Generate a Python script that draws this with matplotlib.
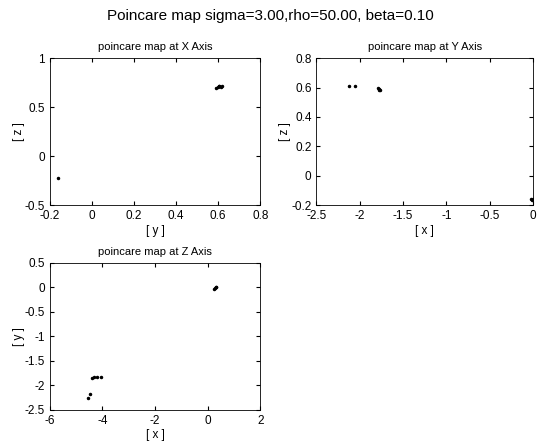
import matplotlib
matplotlib.use('Agg')
import matplotlib.pyplot as plt

plt.rcParams['font.family'] = ['Liberation Sans', 'DejaVu Sans']
plt.rcParams['axes.unicode_minus'] = False

# poincare section points
x_sec_y = [0.590, 0.598, 0.605, 0.612, 0.620, 0.602, -0.160]
x_sec_z = [0.700, 0.705, 0.712, 0.708, 0.715, 0.718, -0.220]

y_sec_x = [-2.12, -2.06, -1.79, -1.78, -1.77, -1.78, -0.02, -0.01, 0.00]
y_sec_z = [0.610, 0.610, 0.595, 0.590, 0.585, 0.580, -0.160, -0.165, -0.160]

z_sec_x = [0.25, 0.28, 0.31, 0.33, -4.40, -4.30, -4.20, -4.05, -4.55, -4.48]
z_sec_y = [-0.03, -0.01, 0.00, 0.01, -1.85, -1.82, -1.84, -1.83, -2.25, -2.17]

fig = plt.figure(figsize=(5.41, 4.44), dpi=100)
fig.suptitle('Poincare map sigma=3.00,rho=50.00, beta=0.10', fontsize=11, y=0.98)

ax1 = fig.add_axes([0.092, 0.538, 0.389, 0.331])
ax1.plot(x_sec_y, x_sec_z, 'k.', markersize=3)
ax1.set_xlim(-0.2, 0.8)
ax1.set_ylim(-0.5, 1)
ax1.set_xticks([-0.2, 0, 0.2, 0.4, 0.6, 0.8])
ax1.set_xticklabels(['-0.2', '0', '0.2', '0.4', '0.6', '0.8'])
ax1.set_yticks([-0.5, 0, 0.5, 1])
ax1.set_yticklabels(['-0.5', '0', '0.5', '1'])
ax1.set_title('poincare map at X Axis', fontsize=8)
ax1.set_xlabel('[ y ]')
ax1.set_ylabel('[ z ]')

ax2 = fig.add_axes([0.585, 0.538, 0.400, 0.331])
ax2.plot(y_sec_x, y_sec_z, 'k.', markersize=3)
ax2.set_xlim(-2.5, 0)
ax2.set_ylim(-0.2, 0.8)
ax2.set_xticks([-2.5, -2, -1.5, -1, -0.5, 0])
ax2.set_xticklabels(['-2.5', '-2', '-1.5', '-1', '-0.5', '0'])
ax2.set_yticks([-0.2, 0, 0.2, 0.4, 0.6, 0.8])
ax2.set_yticklabels(['-0.2', '0', '0.2', '0.4', '0.6', '0.8'])
ax2.set_title('poincare map at Y Axis', fontsize=8)
ax2.set_xlabel('[ x ]')
ax2.set_ylabel('[ z ]')

ax3 = fig.add_axes([0.092, 0.077, 0.389, 0.331])
ax3.plot(z_sec_x, z_sec_y, 'k.', markersize=3)
ax3.set_xlim(-6, 2)
ax3.set_ylim(-2.5, 0.5)
ax3.set_xticks([-6, -4, -2, 0, 2])
ax3.set_xticklabels(['-6', '-4', '-2', '0', '2'])
ax3.set_yticks([-2.5, -2, -1.5, -1, -0.5, 0, 0.5])
ax3.set_yticklabels(['-2.5', '-2', '-1.5', '-1', '-0.5', '0', '0.5'])
ax3.set_title('poincare map at Z Axis', fontsize=8)
ax3.set_xlabel('[ x ]')
ax3.set_ylabel('[ y ]')

for ax in (ax1, ax2, ax3):
    ax.tick_params(direction='in', labelsize=8.5, length=3, top=True, right=True)
    for s in ax.spines.values():
        s.set_linewidth(0.6)
    ax.xaxis.label.set_size(8.5)
    ax.yaxis.label.set_size(8.5)
    ax.yaxis.labelpad = 0
    ax.xaxis.labelpad = 2

fig.savefig('out.png', dpi=100)
